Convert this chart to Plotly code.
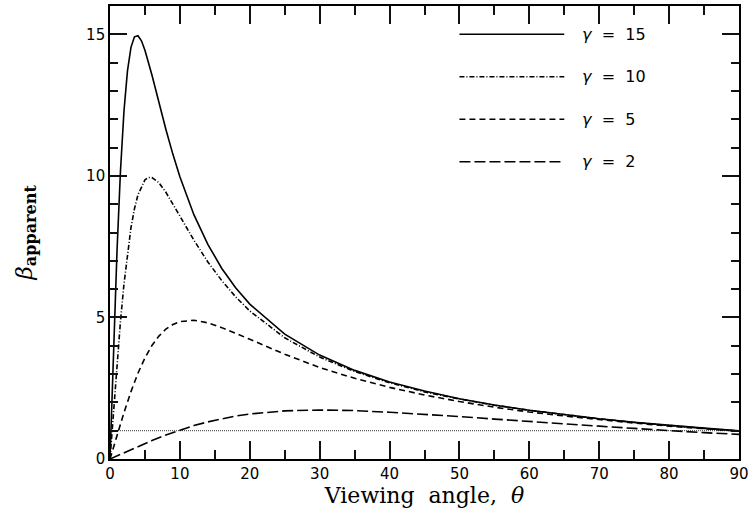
import plotly.graph_objects as go

# ---- data ----
theta_g15 = [0, 0.5, 1, 1.5, 2, 2.5, 3, 3.5, 4, 4.5, 5, 6, 7, 8, 9, 10, 12, 14, 16, 18, 20,
             25, 30, 35, 40, 45, 50, 55, 60, 65, 70, 75, 80, 85, 90]
beta_g15 = [0, 3.85, 7.33, 10.18, 12.29, 13.71, 14.54, 14.91, 14.95, 14.77, 14.44, 13.56, 12.59,
            11.64, 10.76, 9.97, 8.63, 7.58, 6.73, 6.04, 5.47,
            4.41, 3.67, 3.13, 2.72, 2.40, 2.13, 1.91, 1.72, 1.56, 1.42, 1.30, 1.19, 1.09, 1.00]

theta_g10 = [0, 0.5, 1, 1.5, 2, 2.5, 3, 3.5, 4, 5, 5.5, 6, 7, 8, 9, 10, 12, 14, 16, 18, 20,
             25, 30, 35, 40, 45, 50, 55, 60, 65, 70, 75, 80, 85, 90]
beta_g10 = [0, 1.72, 3.36, 4.87, 6.18, 7.28, 8.17, 8.84, 9.33, 9.86, 9.94, 9.94, 9.76, 9.42,
            9.02, 8.58, 7.73, 6.96, 6.30, 5.72, 5.23,
            4.28, 3.60, 3.09, 2.69, 2.37, 2.12, 1.90, 1.72, 1.56, 1.42, 1.29, 1.18, 1.08, 0.99]

theta_g5 = [0, 1, 2, 3, 4, 5, 6, 7, 8, 9, 10, 12, 14, 16, 18, 20,
            25, 30, 35, 40, 45, 50, 55, 60, 65, 70, 75, 80, 85, 90]
beta_g5 = [0, 0.84, 1.64, 2.38, 3.03, 3.57, 4.01, 4.34, 4.59, 4.75, 4.85, 4.90, 4.81, 4.64, 4.44, 4.23,
           3.70, 3.23, 2.85, 2.53, 2.26, 2.03, 1.83, 1.66, 1.52, 1.39, 1.27, 1.16, 1.07, 0.98]

theta_g2 = [0, 2, 4, 6, 8, 10, 12, 14, 16, 18, 20,
            25, 30, 35, 40, 45, 50, 55, 60, 65, 70, 75, 80, 85, 90]
beta_g2 = [0, 0.22, 0.44, 0.65, 0.85, 1.02, 1.18, 1.31, 1.42, 1.52, 1.59,
           1.70, 1.73, 1.71, 1.65, 1.58, 1.50, 1.41, 1.32, 1.24, 1.16, 1.08, 1.00, 0.93, 0.87]

unity_x = [0, 90]
unity_y = [1, 1]

legend_labels = ["15", "10", "5", "2"]
x_ticks = [0, 10, 20, 30, 40, 50, 60, 70, 80, 90]
y_ticks = [0, 5, 10, 15]
x_range = [0, 90]
y_range = [0, 16]

# ---- styling ----
series = [
    (theta_g15, beta_g15, "solid"),
    (theta_g10, beta_g10, "5px,2px,1px,2px"),
    (theta_g5, beta_g5, "6px,4px"),
    (theta_g2, beta_g2, "11px,4px"),
]
LW = 1.6
TICKFONT = dict(family="DejaVu Sans", size=15, color="black")

fig = go.Figure()
fig.add_trace(go.Scatter(x=unity_x, y=unity_y, mode="lines",
                         line=dict(color="black", width=0.8, dash="1px,1px"),
                         showlegend=False, hoverinfo="skip"))
for xs, ys, dash in series:
    fig.add_trace(go.Scatter(x=xs, y=ys, mode="lines",
                             line=dict(color="black", width=LW, dash=dash),
                             showlegend=False))

# legend (line samples + labels)
leg_y = [15, 13.5, 12, 10.5]
for (xs, ys, dash), lab, ly in zip(series, legend_labels, leg_y):
    fig.add_shape(type="line", xref="x", yref="y", x0=50, x1=65, y0=ly, y1=ly,
                  line=dict(color="black", width=LW, dash=dash))
    fig.add_annotation(x=67.3, y=ly, xref="x", yref="y", xanchor="left", yanchor="middle",
                       showarrow=False,
                       text="<i>γ</i>\u00a0\u00a0=\u00a0\u00a0" + lab,
                       font=dict(family="DejaVu Sans", size=16, color="black"))

# y-axis title
fig.add_annotation(x=-0.135, y=0.5, xref="paper", yref="paper", showarrow=False,
                   textangle=-90, xanchor="center", yanchor="middle",
                   text="<i>β</i><sub><b>apparent</b></sub>",
                   font=dict(family="DejaVu Serif", size=23, color="black"))

fig.update_layout(
    xaxis=dict(range=x_range, dtick=x_ticks[1] - x_ticks[0],
               showline=True, linecolor="black", linewidth=LW, mirror="ticks",
               ticks="inside", ticklen=18, tickwidth=2, tickcolor="#111111",
               showgrid=False, zeroline=False, tickfont=TICKFONT,
               minor=dict(dtick=5, ticklen=9, tickwidth=2, tickcolor="#111111", ticks="inside"),
               title=dict(text="Viewing\u00a0\u00a0angle,\u00a0\u00a0<i>θ</i>", standoff=4,
                          font=dict(family="DejaVu Serif", size=22, color="black"))),
    yaxis=dict(range=y_range, dtick=y_ticks[1] - y_ticks[0],
               showline=True, linecolor="black", linewidth=LW, mirror="ticks",
               ticks="inside", ticklen=17, tickwidth=2, tickcolor="#111111",
               minor=dict(dtick=1, ticklen=8, tickwidth=2, tickcolor="#111111", ticks="inside"),
               showgrid=False, zeroline=False, tickfont=TICKFONT),
    width=753, height=527, margin=dict(l=110, r=14, t=4, b=68),
    paper_bgcolor="white", plot_bgcolor="white", showlegend=False,
)

fig.write_html("out.html", config={"displayModeBar": False},
               post_script="document.body.style.margin='0px';")
